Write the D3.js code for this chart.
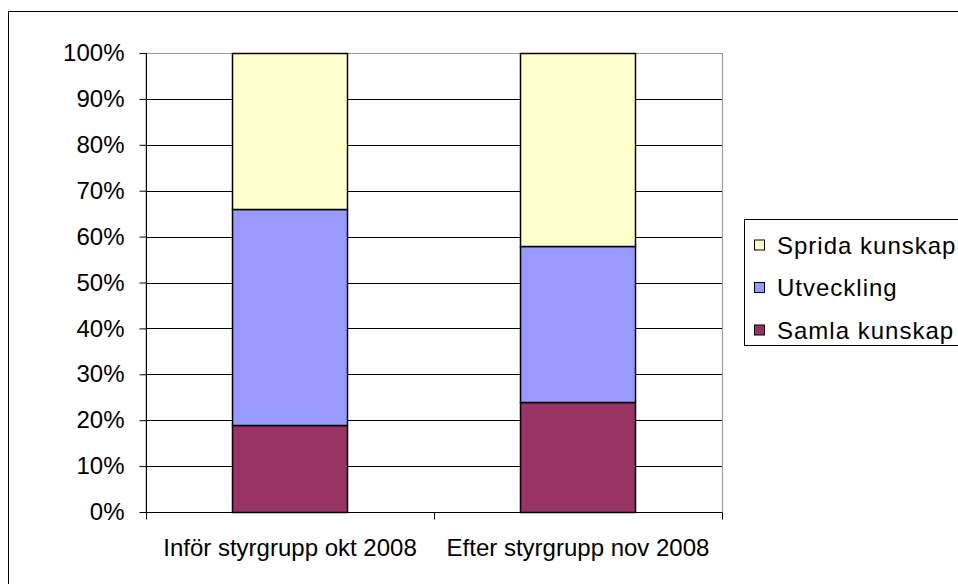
<!DOCTYPE html>
<html>
<head>
<meta charset="utf-8">
<script src="https://cdn.jsdelivr.net/npm/d3@7"></script>
<style>
  body { margin: 0; background: #fff; }
  text { font-family: "Liberation Sans", Arial, sans-serif; fill: #000; }
</style>
</head>
<body>
<svg width="958" height="584"></svg>
<script>
// data
var categories = ["Inför styrgrupp okt 2008", "Efter styrgrupp nov 2008"];
var seriesNames = ["Samla kunskap", "Utveckling", "Sprida kunskap"];
var samla = [19, 24];
var utveckling = [47, 34];
var sprida = [34, 42];
var yTicks = [0, 10, 20, 30, 40, 50, 60, 70, 80, 90, 100];
var colors = ["#993366", "#9999FF", "#FFFFCC"];

var svg = d3.select("svg");
var margin = {left: 146, top: 53, right: 236, bottom: 72};
var width = 958 - margin.left - margin.right,
    height = 584 - margin.top - margin.bottom;

// outer frame
svg.append("rect")
    .attr("x", 8.5).attr("y", 11.5)
    .attr("width", 1000).attr("height", 1000)
    .attr("fill", "none").attr("stroke", "#000");

var table = categories.map(function(c, i) {
    return {cat: c, "Samla kunskap": samla[i], "Utveckling": utveckling[i], "Sprida kunskap": sprida[i]};
});
var stacked = d3.stack().keys(seriesNames)(table);

var x = d3.scaleBand().domain(categories).range([0, width]).paddingInner(0.6).paddingOuter(0.3);
var xEdge = d3.scaleLinear().domain([0, categories.length]).range([0, width]);
var y = d3.scaleLinear().domain([0, 100]).range([height, 0]);

var g = svg.append("g").attr("transform", "translate(" + margin.left + "," + margin.top + ")");

// plot border (gray)
g.append("rect")
    .attr("x", 0).attr("y", 0.5)
    .attr("width", width + 0.5).attr("height", height)
    .attr("fill", "none").attr("stroke", "#999");

// gridlines
g.selectAll(".grid").data(yTicks.slice(0, -1))
  .enter().append("line")
    .attr("x1", 0).attr("x2", width)
    .attr("y1", function(d) { return Math.round(y(d)) + 0.5; })
    .attr("y2", function(d) { return Math.round(y(d)) + 0.5; })
    .attr("stroke", "#000");

// bars
g.selectAll(".series").data(stacked)
  .enter().append("g")
    .attr("fill", function(d, i) { return colors[i]; })
  .selectAll("rect").data(function(d) { return d; })
  .enter().append("rect")
    .attr("x", function(d) { return Math.round(x(d.data.cat)) + 0.5; })
    .attr("y", function(d) { return Math.round(y(d[1])) + 0.5; })
    .attr("width", Math.round(x.bandwidth()))
    .attr("height", function(d) { return Math.round(y(d[0])) - Math.round(y(d[1])); })
    .attr("stroke", "#000").attr("stroke-width", 1.5);

// y axis
var yAxis = g.append("g")
    .attr("transform", "translate(0.5,0)")
    .call(d3.axisLeft(y).tickValues(yTicks).tickSize(7).tickPadding(15)
        .tickFormat(function(d) { return d + "%"; }));
yAxis.select(".domain").remove();
yAxis.append("line").attr("y1", 0).attr("y2", height).attr("stroke", "#000");
yAxis.selectAll(".tick line").attr("stroke", "#000");
yAxis.selectAll("text")
    .style("font-size", "24px")
    .style("font-family", "'Liberation Sans', Arial, sans-serif")
    .attr("fill", "#000");

// x axis
var xAxis = g.append("g").attr("transform", "translate(0," + (height + 0.5) + ")");
xAxis.append("line").attr("x1", 0).attr("x2", width).attr("stroke", "#000");
xAxis.selectAll(".xt").data(d3.range(categories.length + 1))
  .enter().append("line")
    .attr("x1", function(d) { return Math.round(xEdge(d)) + 0.5; })
    .attr("x2", function(d) { return Math.round(xEdge(d)) + 0.5; })
    .attr("y1", 0).attr("y2", 7)
    .attr("stroke", "#000");
xAxis.selectAll(".xl").data(categories)
  .enter().append("text")
    .attr("x", function(d) { return x(d) + x.bandwidth() / 2; })
    .attr("y", 43)
    .attr("text-anchor", "middle")
    .style("font-size", "24px")
    .text(function(d) { return d; });

// legend
var legend = svg.append("g").attr("transform", "translate(744,219)");
legend.append("rect")
    .attr("x", 0.5).attr("y", 0.5).attr("width", 300).attr("height", 126)
    .attr("fill", "#fff").attr("stroke", "#000");
var legendOrder = seriesNames.slice().reverse();
var li = legend.selectAll(".li").data(legendOrder)
  .enter().append("g")
    .attr("transform", function(d, i) { return "translate(10," + (26.5 + i * 42.5) + ")"; });
li.append("rect")
    .attr("x", 0.5).attr("y", -5.5).attr("width", 10).attr("height", 10)
    .attr("fill", function(d) { return colors[seriesNames.indexOf(d)]; })
    .attr("stroke", "#000");
li.append("text")
    .attr("x", 23).attr("y", 0).attr("dy", "0.35em")
    .style("font-size", "24px")
    .style("letter-spacing", "1px")
    .text(function(d) { return d; });
</script>
</body>
</html>
